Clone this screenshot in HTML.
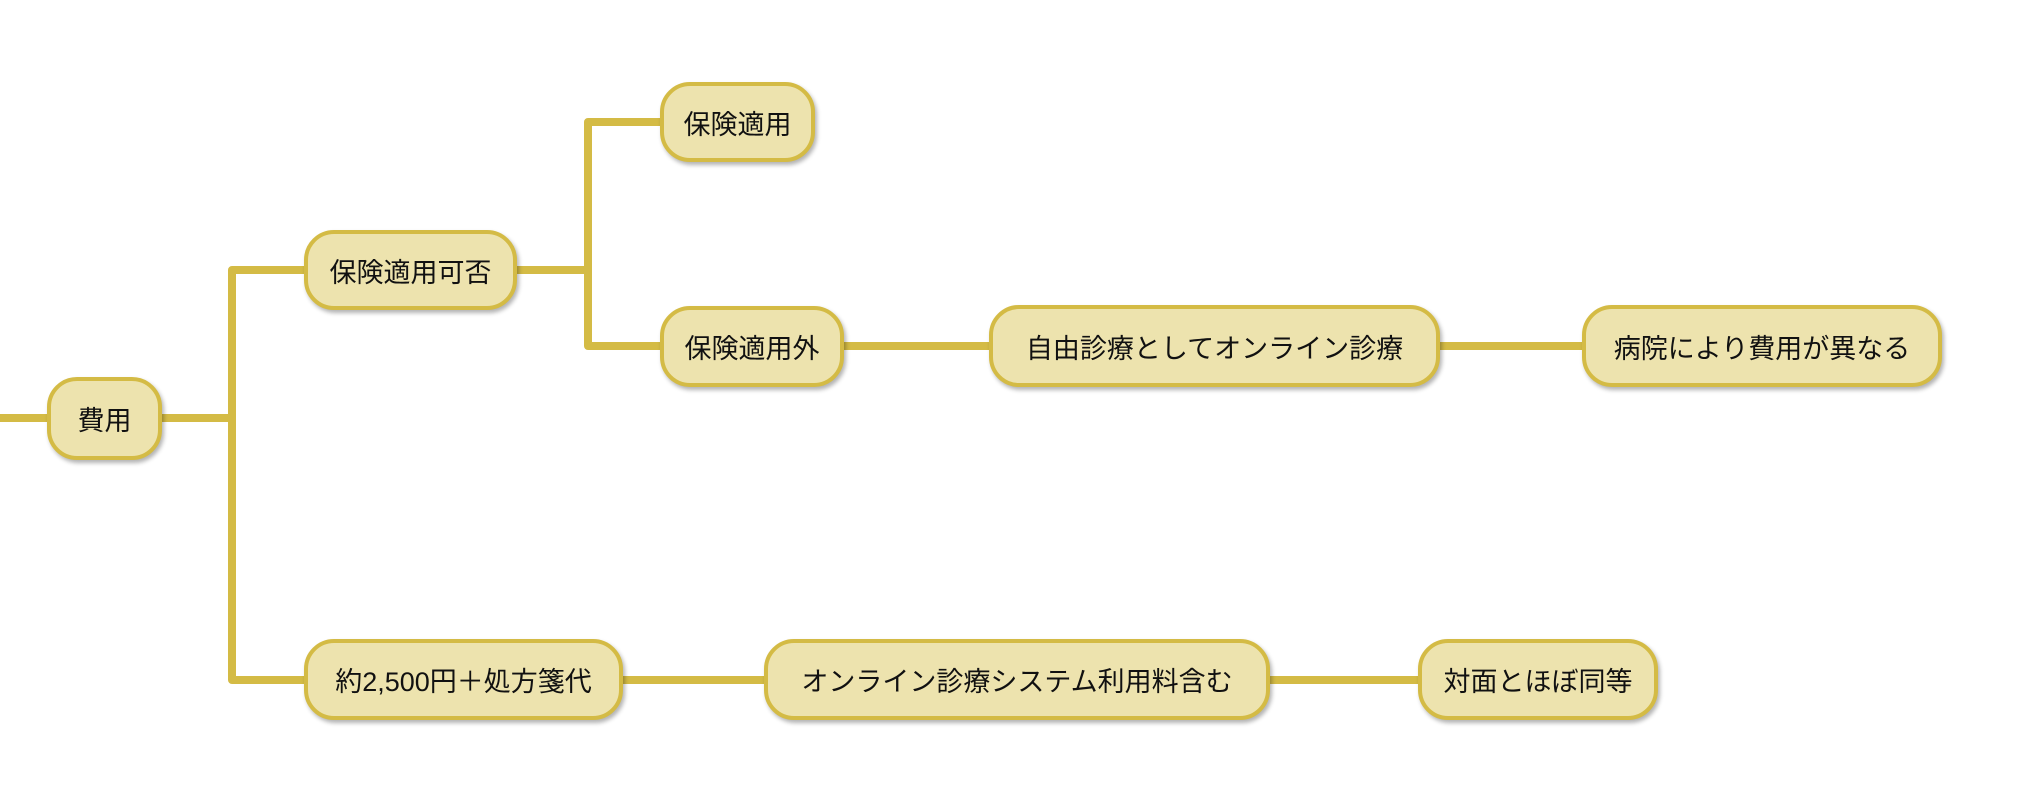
<!DOCTYPE html>
<html><head><meta charset="utf-8"><style>
html,body{margin:0;padding:0;background:#fff;width:2020px;height:797px;overflow:hidden;position:relative}
.n{position:absolute;box-sizing:border-box;background:#ede3ae;border:4px solid #d4bb45;border-radius:30px;box-shadow:2px 3px 4px rgba(0,0,0,0.3);display:flex;align-items:center;justify-content:center;font-family:"Liberation Sans","Noto Sans CJK JP",sans-serif;font-size:27px;color:#111;white-space:nowrap}
svg{position:absolute;left:0;top:0}
</style></head><body>
<svg width="2020" height="797">
<g stroke="#d4bb45" stroke-width="8" fill="none" stroke-linejoin="round">
<line x1="0" y1="418" x2="50" y2="418"/>
<line x1="160" y1="418" x2="232" y2="418"/>
<polyline points="306,270 232,270 232,680 306,680"/>
<line x1="515" y1="270" x2="588" y2="270"/>
<polyline points="662,122 588,122 588,346 662,346"/>
<line x1="842" y1="346" x2="991" y2="346"/>
<line x1="1438" y1="346" x2="1584" y2="346"/>
<line x1="621" y1="680" x2="766" y2="680"/>
<line x1="1268" y1="680" x2="1420" y2="680"/>
</g></svg>
<div class="n" style="left:47px;top:377px;width:115px;height:83px">費用</div>
<div class="n" style="left:304px;top:230px;width:213px;height:80px">保険適用可否</div>
<div class="n" style="left:660px;top:82px;width:155px;height:80px">保険適用</div>
<div class="n" style="left:660px;top:306px;width:184px;height:81px">保険適用外</div>
<div class="n" style="left:989px;top:305px;width:451px;height:82px">自由診療としてオンライン診療</div>
<div class="n" style="left:1582px;top:305px;width:360px;height:82px">病院により費用が異なる</div>
<div class="n" style="left:304px;top:639px;width:319px;height:81px">約2,500円＋処方箋代</div>
<div class="n" style="left:764px;top:639px;width:506px;height:81px">オンライン診療システム利用料含む</div>
<div class="n" style="left:1418px;top:639px;width:240px;height:81px">対面とほぼ同等</div>
</body></html>
